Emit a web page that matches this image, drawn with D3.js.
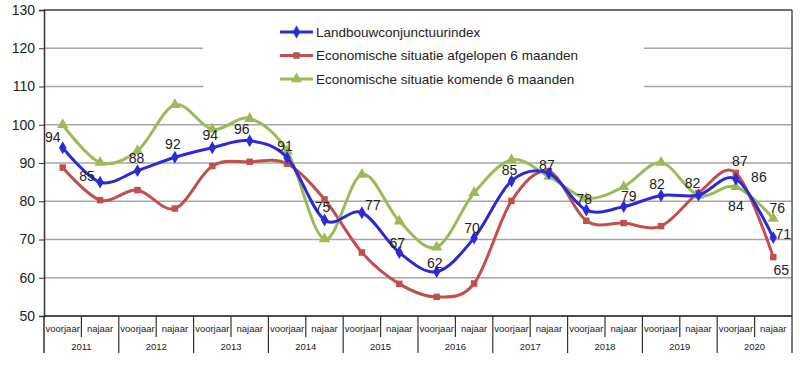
<!DOCTYPE html>
<html>
<head>
<meta charset="utf-8">
<script src="https://cdn.jsdelivr.net/npm/d3@7"></script>
<style>
  body { margin: 0; background: #fff; }
  text { font-family: "Liberation Sans", Arial, sans-serif; fill: #222; }
</style>
</head>
<body>
<div id="chart"></div>
<script>
// categories
var years = ["2011","2012","2013","2014","2015","2016","2017","2018","2019","2020"];
var halves = ["voorjaar","najaar"];
var yTicks = [50,60,70,80,90,100,110,120,130];

// series values
var indexValues = [94,85,88,91.5,94,95.8,91.4,75.1,77,66.6,61.6,70.4,85.3,87.3,77.7,78.6,81.5,81.6,85.8,70.5];
var pastValues  = [88.8,80.3,82.9,78.1,89.2,90.3,89.8,80.5,66.6,58.4,55,58.5,80.1,87.8,74.9,74.3,73.5,82.2,87.4,65.4];
var nextValues  = [100,90.1,93.2,105.2,98.8,101.6,93.1,70.1,87,74.8,68,82.2,90.8,86.5,80.8,83.8,90.1,81.5,83.8,75.5];

var seriesNames = ["Landbouwconjunctuurindex","Economische situatie afgelopen 6 maanden","Economische situatie komende 6 maanden"];

// which points get a value label, and where it sits relative to the marker
var labelIndex = [[0,-10,-11],[1,-13,-6],[2,-1,-13],[3,-2,-13],[4,-2,-13],[5,-8,-12],[6,-2,-12],[7,-2,-13],[8,11,-8],[9,-2,-9],
                  [10,-2,-9],[11,-2,-10],[12,-2,-11],[13,-2,-8],[14,-2,-11],[15,5,-11],[16,-4,-11],[17,-6,-12],[18,23,-2],[19,10,-3]];
var labelPast = [[18,4,-12],[19,8,13]];
var labelNext = [[18,0,19],[19,4,-10]];

var W = 800, H = 365;
var margin = {top: 10, right: 8, bottom: 49, left: 44};
var width = W - margin.left - margin.right,
    height = H - margin.top - margin.bottom;

var svg = d3.select("#chart").append("svg")
    .attr("width", W).attr("height", H);
var g = svg.append("g")
    .attr("transform", "translate(" + margin.left + "," + margin.top + ")");

var cats = [];
years.forEach(function(yr) { halves.forEach(function(h) { cats.push(yr + "|" + h); }); });

var x = d3.scaleBand().domain(cats).range([0, width]);
var y = d3.scaleLinear().domain([50, 130]).range([height, 0]);

// gridlines
g.selectAll(".grid").data(yTicks.slice(1)).enter().append("line")
    .attr("x1", 0).attr("x2", width)
    .attr("y1", function(d) { return y(d); }).attr("y2", function(d) { return y(d); })
    .attr("stroke", "#a6a6a6").attr("stroke-width", 1.5);

// frame top/right
g.append("line").attr("x1", 0).attr("x2", width).attr("y1", 0).attr("y2", 0)
    .attr("stroke", "#555").attr("stroke-width", 1.5);
g.append("line").attr("x1", width).attr("x2", width).attr("y1", 0).attr("y2", height + 37)
    .attr("stroke", "#555").attr("stroke-width", 1.5);

// y axis
var yAxis = g.append("g").call(d3.axisLeft(y).tickValues(yTicks).tickSize(5).tickPadding(4));
yAxis.select(".domain").attr("stroke", "#333").attr("stroke-width", 1.5);
yAxis.selectAll(".tick line").attr("stroke", "#333");
yAxis.selectAll("text").style("font-size", "14px").attr("fill", "#333");
g.append("line").attr("x1", 0).attr("x2", 0).attr("y1", height).attr("y2", height + 37)
    .attr("stroke", "#333").attr("stroke-width", 1.5);

// x axis, two levels
g.append("line").attr("x1", 0).attr("x2", width).attr("y1", height).attr("y2", height)
    .attr("stroke", "#111").attr("stroke-width", 1.5);
g.selectAll(".sep").data(cats.slice(1)).enter().append("line")
    .attr("x1", function(d) { return x(d); }).attr("x2", function(d) { return x(d); })
    .attr("y1", height)
    .attr("y2", function(d) { return d.split("|")[1] == "voorjaar" ? height + 37 : height + 21; })
    .attr("stroke", "#333").attr("stroke-width", 1.2);
g.selectAll(".catlabel").data(cats).enter().append("text")
    .attr("x", function(d) { return x(d) + x.bandwidth() / 2; })
    .attr("y", height + 16)
    .attr("text-anchor", "middle").style("font-size", "9.5px")
    .text(function(d) { return d.split("|")[1]; });
g.selectAll(".yearlabel").data(years).enter().append("text")
    .attr("x", function(d) { return x(d + "|najaar"); })
    .attr("y", height + 34)
    .attr("text-anchor", "middle").style("font-size", "9.5px")
    .text(function(d) { return d; });

// legend box hides part of the grid
g.append("rect").attr("x", 159).attr("y", 2).attr("width", 441).attr("height", 103).attr("fill", "#fff");

var series = [
  {name: seriesNames[1], values: pastValues, color: "#c0504d", marker: d3.symbolSquare, size: 42, labels: labelPast},
  {name: seriesNames[2], values: nextValues, color: "#9bbb59", marker: d3.symbolTriangle, size: 55, labels: labelNext},
  {name: seriesNames[0], values: indexValues, color: "#2a2ad6", marker: d3.symbolDiamond, size: 48, labels: labelIndex}
];

var line = d3.line()
    .x(function(d, i) { return x(cats[i]) + x.bandwidth() / 2; })
    .y(function(d) { return y(d); })
    .curve(d3.curveCatmullRom.alpha(0));

series.forEach(function(s) {
  g.append("path").datum(s.values)
    .attr("d", line).attr("fill", "none")
    .attr("stroke", s.color).attr("stroke-width", 3);
  g.selectAll(null).data(s.values).enter().append("path")
    .attr("d", d3.symbol().type(s.marker).size(s.size))
    .attr("transform", function(d, i) { return "translate(" + (x(cats[i]) + x.bandwidth() / 2) + "," + y(d) + ")"; })
    .attr("fill", s.color);
});

series.forEach(function(s) {
  g.selectAll(null).data(s.labels).enter().append("text")
    .attr("x", function(d) { return x(cats[d[0]]) + x.bandwidth() / 2 + d[1]; })
    .attr("y", function(d) { return y(s.values[d[0]]) + d[2]; })
    .attr("dy", "0.35em").attr("text-anchor", "middle")
    .style("font-size", "14px").attr("fill", "#222")
    .text(function(d) { return Math.round(s.values[d[0]]); });
});

// legend
var legendOrder = [series[2], series[0], series[1]];
var lg = g.append("g").attr("transform", "translate(236,22)");
legendOrder.forEach(function(s, i) {
  var row = lg.append("g").attr("transform", "translate(0," + (i * 23.5) + ")");
  row.append("line").attr("x1", 0).attr("x2", 33).attr("stroke", s.color).attr("stroke-width", 3);
  row.append("path").attr("d", d3.symbol().type(s.marker).size(s.size))
    .attr("transform", "translate(16.5,0)").attr("fill", s.color);
  row.append("text").attr("x", 36).attr("dy", "0.35em")
    .style("font-size", "13.5px").attr("fill", "#222").text(s.name);
});
</script>
</body>
</html>
